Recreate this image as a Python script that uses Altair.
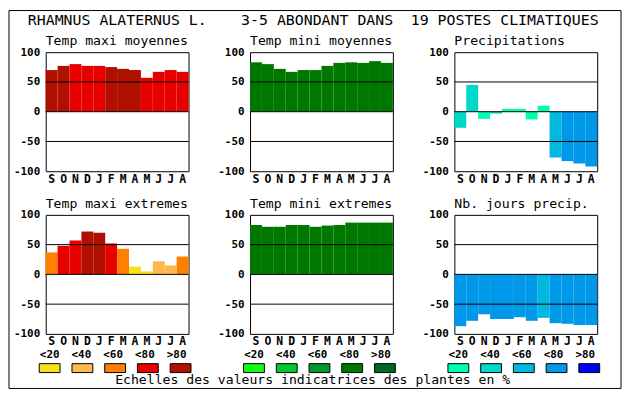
import altair as alt
import pandas as pd

FONT = "DejaVu Sans Mono"

months = ["S", "O", "N", "D", "J", "F", "M", "A", "M", "J", "J", "A"]
cats = ["<20", "<40", "<60", "<80", ">80"]
red_pal = ["#f8e01c", "#ffb850", "#ff8000", "#e80000", "#b01000"]
green_pal = ["#10ff10", "#00c830", "#009830", "#007800", "#006820"]
blue_pal = ["#00ffb0", "#00d8c8", "#00b8e0", "#0098e8", "#0000f8"]

y_ticks = [-100, -50, 0, 50, 100]
grid_vals = [50, 0, -50]

tmax_moy = [70, 77, 80, 77, 77, 75, 72, 70, 57, 67, 70, 67]
tmax_moy_c = [4, 4, 3, 3, 3, 4, 4, 4, 3, 3, 3, 3]
tmin_moy = [83, 80, 72, 67, 70, 70, 77, 82, 83, 82, 85, 82]
tmin_moy_c = [3] * 12
precip = [-27, 45, -12, -3, 5, 5, -13, 10, -77, -83, -87, -92]
precip_c = [1, 1, 0, 1, 0, 0, 0, 0, 2, 3, 3, 3]
tmax_ext = [37, 48, 57, 72, 70, 52, 43, 13, 5, 22, 15, 30]
tmax_ext_c = [2, 3, 3, 4, 4, 3, 2, 0, 0, 1, 1, 2]
tmin_ext = [83, 80, 80, 83, 83, 80, 82, 83, 87, 87, 87, 87]
tmin_ext_c = [3] * 12
njours = [-87, -78, -67, -75, -75, -72, -78, -73, -82, -83, -85, -85]
njours_c = [3, 3, 3, 3, 3, 3, 3, 2, 3, 3, 3, 3]

title_parts = ["RHAMNUS ALATERNUS L.", "3-5 ABONDANT DANS", "19 POSTES CLIMATIQUES"]
footer = "Echelles des valeurs indicatrices des plantes en %"

one = pd.DataFrame({"k": [0]})
month_expr = "[" + ",".join("'%s'" % m for m in months) + "][datum.value]"


def text_layer(txt, x, y, size, weight="normal"):
    return alt.Chart(one).mark_text(
        text=txt, align="left", baseline="alphabetic", font=FONT,
        fontSize=size, fontWeight=weight, color="black"
    ).encode(x=alt.value(x), y=alt.value(y))


def y_axis():
    return alt.Axis(values=y_ticks, labelExpr="''+datum.value", title=None,
                    ticks=False, domain=False, grid=False, labelFont=FONT,
                    labelFontSize=11, labelFontWeight="bold", labelPadding=6,
                    labelColor="black", labelOverlap=False, tickCount=5)


def y_scale():
    return alt.Scale(domain=[-100, 100], nice=False)


def panel(vals, codes, pal, subtitle, extra=()):
    df = pd.DataFrame({"m": list(range(12)), "v": vals, "c": [cats[k] for k in codes]})
    bars = alt.Chart(df).mark_bar().encode(
        x=alt.X("m:O", scale=alt.Scale(paddingInner=0, paddingOuter=0),
                axis=alt.Axis(labelExpr=month_expr, title=None, ticks=False, domain=False,
                              labelAngle=0, labelFont=FONT, labelFontSize=11.5,
                              labelFontWeight="bold", labelPadding=2, labelColor="black",
                              labelOverlap=False)),
        y=alt.Y("v:Q", scale=y_scale(), axis=y_axis()),
        color=alt.Color("c:N", scale=alt.Scale(domain=cats, range=pal), legend=None),
    )
    rules = alt.Chart(pd.DataFrame({"g": grid_vals})).mark_rule(
        color="black", strokeWidth=1).encode(
        y=alt.Y("g:Q", scale=y_scale(), axis=y_axis()))
    sub = text_layer(subtitle, 0, -7, 13.25)
    return alt.layer(bars, rules, sub, *extra).properties(
        width=144, height=120,
        view=alt.ViewBackground(stroke="black", strokeWidth=1))


def legend(pal, extra=()):
    df = pd.DataFrame({"i": list(range(5)), "lab": cats, "c": cats})
    lab = alt.Chart(df).mark_text(
        font=FONT, fontSize=11, fontWeight="bold", baseline="middle", align="center",
        color="black").encode(
        x=alt.X("i:Q", scale=alt.Scale(domain=[0, 4], range=[4, 132], nice=False, zero=False), axis=None),
        y=alt.value(-23), text="lab:N")
    sw = alt.Chart(df).transform_calculate(
        a="datum.i - 0.318", b="datum.i + 0.318").mark_rect(
        stroke="black", strokeWidth=1).encode(
        x=alt.X("a:Q", scale=alt.Scale(domain=[0, 4], range=[4, 136], nice=False, zero=False), axis=None),
        x2="b:Q",
        y=alt.value(-14), y2=alt.value(-5),
        color=alt.Color("c:N", scale=alt.Scale(domain=cats, range=pal), legend=None))
    return alt.layer(lab, sw, *extra).resolve_scale(x="independent").properties(
        width=144, height=10, view=alt.ViewBackground(strokeOpacity=0, fillOpacity=0))


frame = alt.Chart(one).mark_rect(fillOpacity=0, stroke="black", strokeWidth=1).encode(
    x=alt.value(-37), x2=alt.value(580), y=alt.value(-370), y2=alt.value(11))
foot = text_layer(footer, 70, 7, 13.25)

p1 = panel(tmax_moy, tmax_moy_c, red_pal, "Temp maxi moyennes",
           [text_layer(title_parts[0], -18, -27, 15)])
p2 = panel(tmin_moy, tmin_moy_c, green_pal, "Temp mini moyennes",
           [text_layer(title_parts[1], -9, -27, 15)])
p3 = panel(precip, precip_c, blue_pal, "Precipitations",
           [text_layer(title_parts[2], -44, -27, 15)])
p4 = panel(tmax_ext, tmax_ext_c, red_pal, "Temp maxi extremes")
p5 = panel(tmin_ext, tmin_ext_c, green_pal, "Temp mini extremes")
p6 = panel(njours, njours_c, blue_pal, "Nb. jours precip.")

l1 = legend(red_pal, [frame, foot])
l2 = legend(green_pal)
l3 = legend(blue_pal)

chart = alt.concat(
    p1, p2, p3, p4, p5, p6, l1, l2, l3,
    columns=3, spacing={"row": 44, "column": 62}, bounds="flush"
).resolve_scale(color="independent").properties(
    padding=0, background="white").configure_view(strokeWidth=0)

chart.save("out.html", embed_options={"renderer": "svg", "actions": False})
